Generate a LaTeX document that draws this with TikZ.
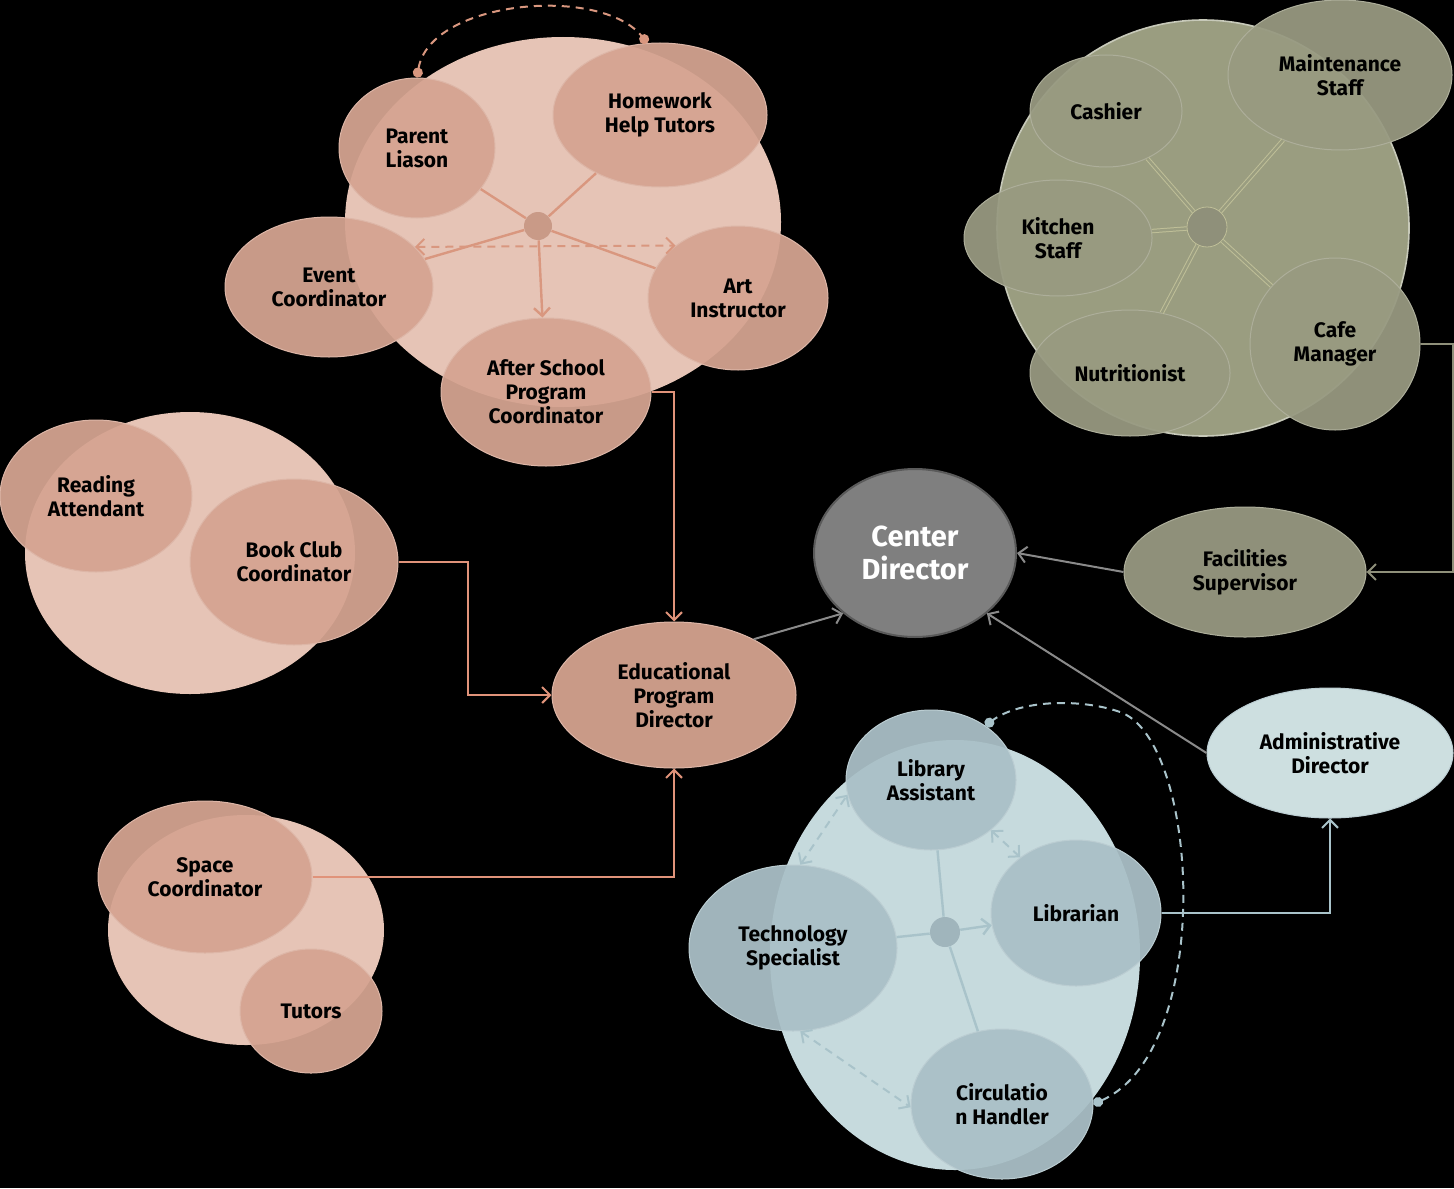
\documentclass[tikz,border=0pt]{standalone}
\usepackage{fontspec}
\setmainfont{Fira Sans}
\usetikzlibrary{positioning, arrows.meta, calc, shapes.geometric}
\definecolor{edubg}{HTML}{E6C4B6}
\definecolor{edufill}{HTML}{D5A491}
\definecolor{edusolid}{HTML}{C99A87}
\definecolor{eduline}{HTML}{D9977F}
\definecolor{eduarrow}{HTML}{E0937A}
\definecolor{cafebg}{HTML}{9A9D80}
\definecolor{cafefill}{HTML}{989A81}
\definecolor{cafesolid}{HTML}{8F907A}
\definecolor{cafeline}{HTML}{BFBF98}
\definecolor{libbg}{HTML}{C6DADD}
\definecolor{libfill}{HTML}{AAC0C7}
\definecolor{libhub}{HTML}{A0B5BC}
\definecolor{libline}{HTML}{A9C3CA}
\definecolor{adminfill}{HTML}{CDDFE0}
\definecolor{ctrfill}{HTML}{7F7F7F}
\definecolor{ctrdraw}{HTML}{5A5A5A}
\definecolor{greyline}{HTML}{8A8A8A}

\begin{document}
\begin{tikzpicture}[x=0.5pt, y=-0.5pt, >={Straight Barb[length=4pt, width=8pt]},
      font=\bfseries\fontsize{10.5}{12}\selectfont,
      ax/.style 2 args={minimum width=#1pt, minimum height=#2pt},
      role/.style={ellipse, inner sep=0pt, align=center, fill opacity=.94, text opacity=1, line width=.5pt},
      edu/.style={role, fill=edufill, draw=edufill!80!white},
      cafe/.style={role, fill=cafefill, draw=cafefill!80!white},
      lib/.style={role, fill=libfill, draw=libfill!80!white},
      grp/.style={ellipse, inner sep=0pt},
      hub/.style={circle, inner sep=0pt},
      spoke/.style={line width=1.2pt},
      link/.style={->, line width=1pt},
      dots/.style={line width=1pt, dash pattern=on 4pt off 3pt, {Circle[length=5pt]}-{Circle[length=5pt]}},
      both/.style={<->, line width=1pt, dash pattern=on 4pt off 3pt}]
    \fill[black] (0,0) rectangle (1454,1188);
    \useasboundingbox (0,0) rectangle (1454,1188);
    % group backgrounds
    \node[grp, ax={218}{185}, fill=edubg] (bgevents) at (563,222) {};
    \node[grp, ax={165}{141}, fill=edubg] (bgreading) at (190,553) {};
    \node[grp, ax={138}{115}, fill=edubg] (bgspace) at (246,930) {};
    \node[grp, ax={206}{208}, fill=cafebg, draw=cafebg!55!white, line width=.8pt] (bgcafe) at (1203,228) {};
    \node[grp, ax={185}{215}, fill=libbg] (bglib) at (955,955) {};
    % educational programs
    \node[edu, ax={78}{70}] (parent) at (417,148) {Parent\\Liason};
    \node[edu, ax={107}{72}] (homework) at (660,115) {Homework\\Help Tutors};
    \node[edu, ax={104}{70}] (event) at (329,287) {Event\\Coordinator};
    \node[edu, ax={90}{72}] (art) at (738,298) {Art\\Instructor};
    \node[edu, ax={105}{74}] (afterschool) at (546,392) {After School\\Program\\Coordinator};
    \node[hub, minimum size=14pt, fill=edusolid] (ehub) at (538,226) {};
    \node[edu, ax={96}{76}] (reading) at (96,496) {Reading\\Attendant};
    \node[edu, ax={104}{83}] (bookclub) at (294,562) {Book Club\\Coordinator};
    \node[edu, ax={107}{76}] (space) at (205,877) {Space\\Coordinator};
    \node[edu, ax={71}{62}] (tutors) at (311,1011) {Tutors};
    \node[edu, ax={122}{73}, fill=edusolid, fill opacity=1] (edudir) at (674,695) {Educational\\Program\\Director};
    % center
    \node[ellipse, ax={101}{84}, fill=ctrfill, draw=ctrdraw, line width=1pt, text=white,
      align=center, font=\bfseries\fontsize{14.5}{16.5}\selectfont] (center) at (915,553) {Center\\Director};
    % cafe and facilities
    \node[cafe, ax={76}{56}] (cashier) at (1106,111) {Cashier};
    \node[cafe, ax={112}{75}] (maint) at (1340,75) {Maintenance\\Staff};
    \node[cafe, ax={94}{58}] (kitchen) at (1058,238) {Kitchen\\Staff};
    \node[cafe, ax={100}{63}] (nutri) at (1130,373) {Nutritionist};
    \node[cafe, ax={85}{86}] (cafemgr) at (1335,344) {Cafe\\Manager};
    \node[hub, minimum size=20pt, fill=cafesolid, draw=cafeline] (chub) at (1207,227) {};
    \node[cafe, ax={121}{65}, fill=cafesolid, fill opacity=1] (facilities) at (1245,572) {Facilities\\Supervisor};
    % library
    \node[lib, ax={85}{70}] (libasst) at (931,780) {Library\\Assistant};
    \node[lib, ax={85}{73}] (librarian) at (1076,913) {Librarian};
    \node[lib, ax={104}{83}] (tech) at (793,948) {Technology\\Specialist};
    \node[lib, ax={91}{75}] (circ) at (1002,1104) {Circulatio\\n Handler};
    \node[hub, minimum size=15pt, fill=libhub] (lhub) at (945,932) {};
    \node[lib, ax={123}{65}, fill=adminfill, fill opacity=1] (admin) at (1330,753) {Administrative\\Director};
    % spokes
    \draw[spoke, eduline] (ehub) -- (parent);
    \draw[spoke, eduline] (ehub) -- (homework);
    \draw[spoke, eduline] (ehub) -- (event);
    \draw[spoke, eduline] (ehub) -- (art);
    \draw[spoke, eduline, ->] (ehub) -- (afterschool);
    \draw[both, eduline] (event.25) -- (art.140);
    \draw[dots, eduline] (parent.north) .. controls (430,0) and (600,-15) .. (homework.100);
    \foreach \n in {cashier, maint, kitchen, nutri, cafemgr}
      \draw[spoke, cafeline, double=cafebg, double distance=1.2pt, line width=.5pt] (chub) -- (\n);
    \draw[spoke, libline] (lhub) -- (libasst);
    \draw[spoke, libline, ->] (lhub) -- (librarian);
    \draw[spoke, libline] (lhub) -- (tech);
    \draw[spoke, libline] (lhub) -- (circ);
    \draw[both, libline] (tech.85) -- (libasst.190);
    \draw[both, libline] (libasst.-40) -- (librarian.135);
    \draw[both, libline] (tech.-85) -- (circ.182);
    \draw[dots, libline] (circ.east) .. controls (1215,1050) and (1200,740) .. (1120,712)
      .. controls (1080,698) and (1020,700) .. (libasst.45);
    % reporting lines
    \draw[link, eduarrow] (afterschool.east) -| (edudir.north);
    \draw[link, eduarrow] (bookclub.east) -- ++(69,0) |- (edudir.west);
    \draw[link, eduarrow] (space.east) -| (edudir.south);
    \draw[link, greyline] (edudir.35) -- (center.220);
    \draw[link, greyline] (facilities.west) -- (center.east);
    \draw[link, cafesolid] (cafemgr.east) -- ++(32,0) |- (facilities.east);
    \draw[link, greyline] (admin.west) -- (center.320);
    \draw[link, libline] (librarian.east) -| (admin.south);
  \end{tikzpicture}
\end{document}
